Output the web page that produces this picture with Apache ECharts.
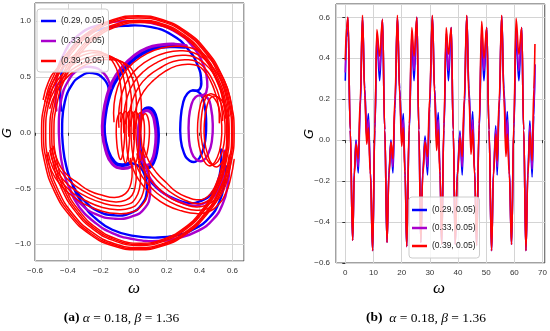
<!DOCTYPE html>
<html><head><meta charset="utf-8">
<script src="https://cdn.jsdelivr.net/npm/echarts@6/dist/echarts.min.js"></script>
<style>html,body{margin:0;padding:0;background:#fff}#c{width:550px;height:331px}</style>
</head><body><div id="c"></div><script>
// ---------- legend names / colours ----------
const seriesNames = ['(0.29, 0.05)', '(0.33, 0.05)', '(0.39, 0.05)'];
const seriesColors = ['#0000ff', '#aa00cc', '#ff0000'];

// ---------- panel (b): time series ----------
const times = [
  0, 0.45, 0.95, 1.75, 2.6, 3.2, 3.8, 4.6, 5.3, 6.1, 6.9, 7.6, 8.2, 8.9,
  9.7, 10.5, 11.2, 12.2, 13.2, 14.0, 14.8, 15.5, 16.2, 16.9, 17.6, 18.5, 19.3, 20.0, 20.6, 21.2,
  21.8, 22.7, 23.6, 24.4, 25.4, 26.1, 26.8, 27.5, 28.3, 29.2, 29.9, 30.9, 31.7, 32.4, 33.0, 33.6,
  34.2, 35.0, 35.8, 36.6, 37.6, 38.3, 39.0, 39.8, 40.7, 41.5, 42.2, 43.1, 43.9, 44.6, 45.2, 45.9,
  46.6, 47.5, 48.4, 49.2, 50.2, 51.0, 51.9, 52.6, 53.4, 53.9, 54.6, 55.5, 56.3, 57.0, 57.5, 58.2,
  59.0, 59.8, 60.6, 61.6, 62.6, 63.3, 64.1, 64.8, 65.5, 66.3, 66.9, 67.3
];
const gBlue = [
  0.29, 0.5, 0.59, 0.05, -0.49, -0.15, 0.0, -0.16, 0.15, 0.6, 0.25, 0.02, 0.13, -0.15,
  -0.54, 0.05, 0.5, 0.29, 0.59, 0.05, -0.5, -0.15, 0.0, -0.16, 0.15, 0.6, 0.25, 0.02, 0.13, -0.15,
  -0.52, 0.05, 0.49, 0.29, 0.6, 0.05, -0.5, -0.15, 0.02, -0.17, 0.15, 0.606, 0.25, 0.02, 0.135, -0.15,
  -0.51, 0.05, 0.5, 0.29, 0.55, 0.05, -0.51, -0.15, 0.045, -0.17, 0.15, 0.606, 0.25, 0.0, 0.14, -0.15,
  -0.515, 0.05, 0.5, 0.29, 0.55, 0.05, -0.54, -0.15, 0.07, -0.17, 0.15, 0.606, 0.25, 0.02, 0.14, -0.15,
  -0.51, 0.05, 0.5, 0.29, 0.55, 0.05, -0.54, -0.15, 0.094, -0.18, 0.12, 0.37
];
const gMagenta = [
  0.33, 0.52, 0.6, 0.05, -0.49, -0.16, -0.01, -0.13, 0.17, 0.6, 0.25, 0.01, 0.1, -0.15,
  -0.54, 0.06, 0.52, 0.34, 0.59, 0.05, -0.5, -0.16, -0.01, -0.13, 0.17, 0.6, 0.25, 0.01, 0.1, -0.15,
  -0.52, 0.06, 0.52, 0.34, 0.6, 0.05, -0.5, -0.16, 0.0, -0.13, 0.17, 0.606, 0.25, 0.0, 0.1, -0.15,
  -0.51, 0.06, 0.52, 0.34, 0.55, 0.05, -0.51, -0.16, 0.03, -0.13, 0.17, 0.606, 0.24, -0.03, 0.1, -0.15,
  -0.515, 0.06, 0.54, 0.34, 0.55, 0.05, -0.54, -0.16, 0.05, -0.13, 0.17, 0.606, 0.24, -0.02, 0.1, -0.15,
  -0.51, 0.06, 0.55, 0.34, 0.55, 0.05, -0.54, -0.16, 0.07, -0.14, 0.15, 0.37
];
const gRed = [
  0.39, 0.55, 0.6, 0.05, -0.49, -0.17, -0.02, -0.09, 0.2, 0.61, 0.22, -0.02, 0.06, -0.17,
  -0.54, 0.08, 0.54, 0.41, 0.59, 0.05, -0.5, -0.17, -0.01, -0.09, 0.2, 0.61, 0.22, -0.03, 0.06, -0.17,
  -0.52, 0.08, 0.55, 0.41, 0.6, 0.05, -0.5, -0.17, -0.01, -0.08, 0.2, 0.61, 0.22, -0.05, 0.05, -0.17,
  -0.51, 0.08, 0.55, 0.42, 0.55, 0.05, -0.51, -0.17, 0.01, -0.08, 0.2, 0.61, 0.2, -0.07, 0.05, -0.17,
  -0.515, 0.08, 0.58, 0.4, 0.55, 0.05, -0.54, -0.17, 0.03, -0.1, 0.2, 0.61, 0.2, -0.08, 0.03, -0.17,
  -0.51, 0.08, 0.595, 0.42, 0.55, 0.05, -0.54, -0.17, 0.04, -0.1, 0.25, 0.47
];

// ---------- panel (a): phase portrait, [omega, G] ----------
// blue (0.29, 0.05)
const blueTop = [[-0.44,0.2],[-0.445,0.45],[-0.41,0.66],[-0.33,0.83],[-0.2,0.93],[-0.05,0.96],[0.1,0.95],[0.23,0.88],[0.33,0.75],[0.39,0.6],[0.41,0.47],[0.4,0.39],[0.36,0.38]];
const blueRight = [[0.36,0.38],[0.405,0.35],[0.43,0.25],[0.44,0.1],[0.435,-0.06],[0.415,-0.18],[0.38,-0.255],[0.34,-0.25],[0.305,-0.18],[0.285,-0.05],[0.285,0.12],[0.3,0.27],[0.325,0.35],[0.36,0.38]];
const blueLeft = [[-0.15,0.38],[-0.18,0.48],[-0.25,0.535],[-0.32,0.51],[-0.38,0.42],[-0.42,0.27],[-0.435,0.08],[-0.43,-0.12],[-0.41,-0.3],[-0.37,-0.47],[-0.3,-0.61],[-0.22,-0.7],[-0.12,-0.74],[-0.02,-0.72],[0.05,-0.64],[0.08,-0.52],[0.07,-0.4],[0.04,-0.31],[-0.02,-0.27]];
const blueBottom = [[-0.37,-0.48],[-0.31,-0.64],[-0.23,-0.77],[-0.13,-0.87],[0.0,-0.925],[0.13,-0.94],[0.26,-0.92],[0.37,-0.86],[0.46,-0.76],[0.52,-0.62],[0.55,-0.46],[0.56,-0.3]];
const blueLowerRight = [[0.04,-0.2],[0.06,-0.33],[0.11,-0.45],[0.18,-0.54],[0.26,-0.6],[0.34,-0.63],[0.41,-0.61],[0.47,-0.55],[0.51,-0.44],[0.53,-0.3],[0.53,-0.15]];
const blueCenter = [[-0.02,-0.27],[-0.07,-0.29],[-0.12,-0.26],[-0.16,-0.15],[-0.18,0.0],[-0.175,0.15],[-0.155,0.3],[-0.12,0.44],[-0.06,0.57],[0.01,0.67],[0.09,0.74],[0.17,0.77],[0.25,0.775],[0.31,0.77]];
const blueSmall = [[0.09,0.22],[0.12,0.19],[0.14,0.1],[0.148,-0.02],[0.14,-0.15],[0.12,-0.26],[0.09,-0.31],[0.06,-0.28],[0.04,-0.17],[0.033,-0.03],[0.038,0.1],[0.055,0.19],[0.09,0.22]];
// magenta (0.33, 0.05)
const magTop = [[-0.47,0.2],[-0.47,0.47],[-0.43,0.69],[-0.34,0.87],[-0.2,0.97],[-0.04,1.0],[0.12,0.98],[0.26,0.9],[0.36,0.77],[0.42,0.62],[0.445,0.48],[0.44,0.36],[0.41,0.335]];
const magRight = [[0.41,0.335],[0.45,0.31],[0.47,0.22],[0.48,0.08],[0.475,-0.07],[0.455,-0.18],[0.42,-0.25],[0.38,-0.24],[0.35,-0.17],[0.335,-0.04],[0.335,0.12],[0.35,0.25],[0.375,0.32],[0.41,0.335]];
const magLeft = [[-0.14,0.4],[-0.18,0.53],[-0.26,0.59],[-0.34,0.56],[-0.4,0.46],[-0.44,0.3],[-0.455,0.1],[-0.45,-0.12],[-0.43,-0.32],[-0.39,-0.5],[-0.32,-0.64],[-0.23,-0.73],[-0.12,-0.77],[-0.01,-0.75],[0.07,-0.67],[0.1,-0.54],[0.09,-0.42]];
const magBottom = [[-0.39,-0.5],[-0.33,-0.67],[-0.24,-0.8],[-0.13,-0.9],[0.0,-0.955],[0.14,-0.97],[0.28,-0.94],[0.39,-0.88],[0.48,-0.78],[0.54,-0.64],[0.57,-0.48],[0.58,-0.3]];
const magLowerRight = [[0.06,-0.2],[0.08,-0.34],[0.13,-0.47],[0.2,-0.56],[0.28,-0.62],[0.36,-0.655],[0.43,-0.63],[0.49,-0.57],[0.53,-0.46],[0.55,-0.32],[0.55,-0.16]];
const magCenter = [[-0.01,-0.3],[-0.07,-0.32],[-0.13,-0.28],[-0.17,-0.16],[-0.19,0.0],[-0.185,0.16],[-0.165,0.32],[-0.13,0.46],[-0.07,0.59],[0.0,0.69],[0.08,0.76],[0.17,0.79],[0.25,0.795],[0.32,0.78]];
const magSmall = [[0.08,0.2],[0.11,0.17],[0.128,0.08],[0.135,-0.03],[0.128,-0.15],[0.11,-0.25],[0.083,-0.29],[0.055,-0.26],[0.036,-0.16],[0.03,-0.03],[0.034,0.09],[0.05,0.17],[0.08,0.2]];
// red (0.39, 0.05)
const redOuter1 = [[0.025,1.05],[0.177,1.014],[0.318,0.909],[0.439,0.742],[0.532,0.525],[0.59,0.272],[0.61,0],[0.59,-0.272],[0.532,-0.525],[0.439,-0.742],[0.318,-0.909],[0.177,-1.014],[0.025,-1.05],[-0.127,-1.014],[-0.268,-0.909],[-0.389,-0.742],[-0.482,-0.525],[-0.54,-0.272],[-0.56,0],[-0.54,0.272],[-0.482,0.525],[-0.389,0.742],[-0.268,0.909],[-0.127,1.014],[0.025,1.05]];
const redOuter2 = [[0.027,1.04],[0.176,1.005],[0.315,0.901],[0.434,0.735],[0.525,0.52],[0.582,0.269],[0.602,0],[0.582,-0.269],[0.525,-0.52],[0.434,-0.735],[0.315,-0.901],[0.176,-1.005],[0.027,-1.04],[-0.122,-1.005],[-0.261,-0.901],[-0.38,-0.735],[-0.471,-0.52],[-0.528,-0.269],[-0.548,0],[-0.528,0.269],[-0.471,0.52],[-0.38,0.735],[-0.261,0.901],[-0.122,1.005],[0.027,1.04]];
const redOuter3 = [[0.03,1.03],[0.176,0.995],[0.313,0.892],[0.43,0.728],[0.519,0.515],[0.576,0.267],[0.595,0],[0.576,-0.267],[0.519,-0.515],[0.43,-0.728],[0.313,-0.892],[0.176,-0.995],[0.03,-1.03],[-0.116,-0.995],[-0.253,-0.892],[-0.37,-0.728],[-0.459,-0.515],[-0.516,-0.267],[-0.535,0],[-0.516,0.267],[-0.459,0.515],[-0.37,0.728],[-0.253,0.892],[-0.116,0.995],[0.03,1.03]];
const redOuter4 = [[0.035,1.01],[0.176,0.976],[0.308,0.875],[0.42,0.714],[0.507,0.505],[0.561,0.262],[0.58,0],[0.561,-0.262],[0.507,-0.505],[0.42,-0.714],[0.308,-0.875],[0.176,-0.976],[0.035,-1.01],[-0.106,-0.976],[-0.238,-0.875],[-0.35,-0.714],[-0.437,-0.505],[-0.491,-0.262],[-0.51,0],[-0.491,0.262],[-0.437,0.505],[-0.35,0.714],[-0.238,0.875],[-0.106,0.976],[0.035,1.01]];
const redOuter5 = [[0.037,1.0],[0.175,0.966],[0.305,0.866],[0.415,0.707],[0.5,0.5],[0.554,0.259],[0.572,0],[0.554,-0.259],[0.5,-0.5],[0.415,-0.707],[0.305,-0.866],[0.175,-0.966],[0.037,-1.0],[-0.101,-0.966],[-0.231,-0.866],[-0.341,-0.707],[-0.426,-0.5],[-0.48,-0.259],[-0.498,0],[-0.48,0.259],[-0.426,0.5],[-0.341,0.707],[-0.231,0.866],[-0.101,0.966],[0.037,1.0]];
const redOuter6 = [[0.04,0.99],[0.176,0.956],[0.303,0.857],[0.411,0.7],[0.495,0.495],[0.547,0.256],[0.565,0],[0.547,-0.256],[0.495,-0.495],[0.411,-0.7],[0.303,-0.857],[0.176,-0.956],[0.04,-0.99],[-0.096,-0.956],[-0.223,-0.857],[-0.331,-0.7],[-0.415,-0.495],[-0.467,-0.256],[-0.485,0],[-0.467,0.256],[-0.415,0.495],[-0.331,0.7],[-0.223,0.857],[-0.096,0.956],[0.04,0.99]];
const redLeft1 = [[-0.55,0.3],[-0.52,0.45],[-0.47,0.57],[-0.4,0.66],[-0.32,0.72],[-0.24,0.735],[-0.17,0.7],[-0.12,0.62],[-0.09,0.5],[-0.075,0.36],[-0.075,0.22],[-0.08,0.1]];
const redLeft2 = [[-0.54,0.28],[-0.5,0.43],[-0.45,0.55],[-0.38,0.64],[-0.3,0.7],[-0.21,0.715],[-0.14,0.68],[-0.09,0.6],[-0.06,0.48],[-0.045,0.34],[-0.045,0.2],[-0.05,0.08]];
const redLeft3 = [[-0.53,0.26],[-0.49,0.41],[-0.43,0.53],[-0.36,0.62],[-0.27,0.68],[-0.18,0.695],[-0.11,0.66],[-0.06,0.58],[-0.03,0.46],[-0.015,0.32],[-0.015,0.18],[-0.02,0.06]];
const redLeft4 = [[-0.52,0.24],[-0.48,0.39],[-0.42,0.51],[-0.34,0.6],[-0.25,0.66],[-0.16,0.675],[-0.08,0.64],[-0.03,0.56],[0.0,0.44],[0.015,0.3],[0.015,0.16],[0.01,0.04]];
const redLeft5 = [[-0.51,0.22],[-0.47,0.37],[-0.41,0.49],[-0.33,0.58],[-0.23,0.64],[-0.13,0.655],[-0.05,0.62],[0.0,0.54],[0.03,0.42],[0.045,0.28],[0.045,0.14],[0.04,0.02]];
const redFan1 = [[-0.12,0.1],[-0.12,0.25],[-0.1,0.4],[-0.06,0.53],[0.0,0.63],[0.08,0.71],[0.17,0.76],[0.26,0.775],[0.35,0.76],[0.43,0.7],[0.5,0.6],[0.55,0.47],[0.585,0.32],[0.6,0.17]];
const redFan2 = [[-0.09,0.05],[-0.09,0.2],[-0.07,0.36],[-0.03,0.49],[0.03,0.59],[0.11,0.67],[0.2,0.72],[0.28,0.735],[0.36,0.72],[0.43,0.66],[0.49,0.57],[0.535,0.45],[0.565,0.3],[0.58,0.15]];
const redFan3 = [[-0.06,0.0],[-0.06,0.16],[-0.04,0.32],[0.0,0.45],[0.06,0.55],[0.14,0.63],[0.22,0.68],[0.3,0.695],[0.37,0.68],[0.43,0.62],[0.48,0.54],[0.52,0.42],[0.545,0.28],[0.56,0.13]];
const redFan4 = [[-0.03,-0.03],[-0.03,0.13],[-0.01,0.28],[0.03,0.41],[0.09,0.51],[0.17,0.59],[0.24,0.64],[0.32,0.655],[0.38,0.64],[0.43,0.58],[0.47,0.5],[0.505,0.39],[0.53,0.26],[0.54,0.11]];
const redFan5 = [[0.0,-0.06],[0.0,0.1],[0.02,0.25],[0.06,0.37],[0.12,0.47],[0.19,0.55],[0.26,0.6],[0.33,0.615],[0.39,0.6],[0.43,0.55],[0.465,0.47],[0.495,0.36],[0.515,0.24],[0.52,0.09]];
const redSmall1 = [[-0.08,0.18],[-0.063,0.14],[-0.055,0.05],[-0.057,-0.07],[-0.066,-0.18],[-0.08,-0.24],[-0.095,-0.18],[-0.104,-0.07],[-0.106,0.05],[-0.098,0.14],[-0.08,0.18]];
const redSmall2 = [[-0.05,0.19],[-0.033,0.15],[-0.025,0.05],[-0.027,-0.08],[-0.036,-0.2],[-0.05,-0.27],[-0.065,-0.2],[-0.074,-0.08],[-0.076,0.05],[-0.068,0.15],[-0.05,0.19]];
const redSmall3 = [[-0.02,0.2],[-0.003,0.16],[0.005,0.05],[0.003,-0.08],[-0.006,-0.21],[-0.02,-0.28],[-0.035,-0.21],[-0.044,-0.08],[-0.046,0.05],[-0.038,0.16],[-0.02,0.2]];
const redSmall4 = [[0.01,0.19],[0.027,0.15],[0.035,0.05],[0.033,-0.08],[0.024,-0.2],[0.01,-0.27],[-0.005,-0.2],[-0.014,-0.08],[-0.016,0.05],[-0.008,0.15],[0.01,0.19]];
const redSmall5 = [[0.04,0.18],[0.057,0.14],[0.065,0.05],[0.063,-0.07],[0.054,-0.18],[0.04,-0.25],[0.025,-0.18],[0.016,-0.07],[0.014,0.05],[0.022,0.14],[0.04,0.18]];
const redSmall6 = [[0.07,0.17],[0.087,0.13],[0.095,0.04],[0.093,-0.06],[0.084,-0.16],[0.07,-0.22],[0.055,-0.16],[0.046,-0.06],[0.044,0.04],[0.052,0.13],[0.07,0.17]];
const redRight1 = [[0.47,0.35],[0.51,0.32],[0.54,0.22],[0.555,0.07],[0.55,-0.08],[0.53,-0.2],[0.495,-0.28],[0.46,-0.27],[0.43,-0.18],[0.41,-0.04],[0.41,0.12],[0.425,0.26],[0.445,0.33],[0.47,0.35]];
const redRight2 = [[0.49,0.33],[0.53,0.3],[0.56,0.2],[0.575,0.05],[0.57,-0.1],[0.55,-0.22],[0.515,-0.3],[0.48,-0.29],[0.45,-0.2],[0.43,-0.06],[0.43,0.1],[0.445,0.24],[0.465,0.31],[0.49,0.33]];
const redRight3 = [[0.45,0.34],[0.49,0.31],[0.52,0.21],[0.535,0.06],[0.53,-0.09],[0.51,-0.21],[0.475,-0.29],[0.44,-0.28],[0.41,-0.19],[0.39,-0.05],[0.39,0.11],[0.405,0.25],[0.425,0.32],[0.45,0.34]];
const redLowL1 = [[-0.53,-0.2],[-0.5,-0.34],[-0.45,-0.46],[-0.38,-0.56],[-0.3,-0.64],[-0.2,-0.7],[-0.1,-0.725],[-0.01,-0.71],[0.05,-0.65],[0.085,-0.55],[0.095,-0.42],[0.085,-0.3]];
const redLowL2 = [[-0.52,-0.18],[-0.49,-0.32],[-0.44,-0.44],[-0.37,-0.54],[-0.29,-0.61],[-0.19,-0.67],[-0.1,-0.69],[-0.02,-0.675],[0.03,-0.62],[0.06,-0.52],[0.07,-0.4],[0.06,-0.28]];
const redLowL3 = [[-0.51,-0.16],[-0.48,-0.3],[-0.43,-0.42],[-0.36,-0.51],[-0.28,-0.58],[-0.19,-0.63],[-0.1,-0.655],[-0.03,-0.64],[0.01,-0.59],[0.035,-0.5],[0.04,-0.38],[0.03,-0.26]];
const redLowL4 = [[-0.5,-0.14],[-0.47,-0.28],[-0.42,-0.39],[-0.35,-0.48],[-0.27,-0.55],[-0.19,-0.6],[-0.11,-0.62],[-0.05,-0.605],[-0.01,-0.56],[0.01,-0.47],[0.015,-0.36],[0.005,-0.24]];
const redLowL5 = [[-0.49,-0.12],[-0.46,-0.26],[-0.41,-0.37],[-0.34,-0.45],[-0.27,-0.52],[-0.19,-0.56],[-0.12,-0.58],[-0.07,-0.565],[-0.035,-0.52],[-0.015,-0.44],[-0.01,-0.34],[-0.02,-0.23]];
const redLowR1 = [[-0.02,-0.25],[0.01,-0.37],[0.06,-0.48],[0.12,-0.57],[0.2,-0.65],[0.29,-0.7],[0.38,-0.725],[0.45,-0.71],[0.51,-0.65],[0.56,-0.54],[0.59,-0.4],[0.61,-0.24]];
const redLowR2 = [[0.0,-0.22],[0.03,-0.34],[0.08,-0.45],[0.14,-0.54],[0.22,-0.62],[0.3,-0.67],[0.38,-0.695],[0.45,-0.68],[0.5,-0.62],[0.545,-0.52],[0.575,-0.38],[0.595,-0.22]];
const redLowR3 = [[0.02,-0.19],[0.05,-0.31],[0.1,-0.42],[0.16,-0.51],[0.23,-0.59],[0.31,-0.64],[0.38,-0.665],[0.44,-0.65],[0.49,-0.6],[0.53,-0.5],[0.56,-0.36],[0.58,-0.2]];
const redLowR4 = [[0.04,-0.16],[0.07,-0.28],[0.12,-0.39],[0.18,-0.48],[0.25,-0.56],[0.32,-0.61],[0.38,-0.635],[0.44,-0.62],[0.48,-0.57],[0.515,-0.48],[0.545,-0.34],[0.565,-0.18]];
const redLowR5 = [[0.06,-0.13],[0.09,-0.25],[0.14,-0.36],[0.2,-0.45],[0.26,-0.53],[0.33,-0.58],[0.38,-0.6],[0.43,-0.59],[0.47,-0.54],[0.5,-0.46],[0.53,-0.33],[0.55,-0.17]];

const phaseGroups = [
  {k:0, w:2.4, loops:[blueTop, blueRight, blueLeft, blueBottom, blueLowerRight]},
  {k:0, w:3.8, loops:[blueCenter, blueSmall]},
  {k:1, w:2.4, loops:[magTop, magRight, magLeft, magBottom, magLowerRight]},
  {k:1, w:3.0, loops:[magCenter, magSmall]},
  {k:2, w:1.5, loops:[redOuter1, redOuter2, redOuter3, redOuter4, redOuter5, redOuter6,
    redLeft1, redLeft2, redLeft3, redLeft4, redLeft5,
    redFan1, redFan2, redFan3, redFan4, redFan5,
    redSmall1, redSmall2, redSmall3, redSmall4, redSmall5, redSmall6,
    redRight1, redRight2, redRight3,
    redLowL1, redLowL2, redLowL3, redLowL4, redLowL5,
    redLowR1, redLowR2, redLowR3, redLowR4, redLowR5]}
];

// ---------- build ----------
const sans = "'Liberation Sans', Arial, sans-serif";
const serif = "'Liberation Serif', 'DejaVu Serif', serif";
const minus = s => String(s).replace('-', '\u2212');

// a trajectory piece drawn as one smooth curve through the axis scales
function curveSeries(points, k, w) {
  const closed = points.length > 2 &&
    points[0][0] === points[points.length - 1][0] && points[0][1] === points[points.length - 1][1];
  return {
    type: 'custom', name: seriesNames[k], coordinateSystem: 'cartesian2d',
    xAxisIndex: 0, yAxisIndex: 0, data: points, encode: {x: 0, y: 1},
    silent: true, clip: true,
    itemStyle: {color: seriesColors[k]},
    renderItem: function (params, api) {
      if (params.dataIndex !== 0) return null;
      let pts = points.map(p => api.coord(p));
      if (closed) pts = pts.slice(0, -1);
      return {
        type: closed ? 'polygon' : 'polyline',
        shape: {points: pts, smooth: 0.5},
        style: {stroke: seriesColors[k], lineWidth: w, fill: null, lineJoin: 'round', lineCap: 'round'}
      };
    }
  };
}

const series = [];
phaseGroups.forEach(g => g.loops.forEach(loop => series.push(curveSeries(loop, g.k, g.w))));
[gBlue, gMagenta, gRed].forEach((vals, k) => {
  series.push({
    type: 'line', name: seriesNames[k], xAxisIndex: 1, yAxisIndex: 1,
    data: times.map((t, i) => [t, vals[i]]), smooth: 0.4, smoothMonotone: 'x',
    symbol: 'none', silent: true, color: seriesColors[k],
    itemStyle: {color: seriesColors[k]},
    lineStyle: {color: seriesColors[k], width: 1.6}
  });
});

const axisCommon = {
  type: 'value',
  axisLine: {show: false},
  axisTick: {show: true, length: 3, lineStyle: {color: '#333'}},
  splitLine: {show: true, lineStyle: {color: '#d4d4d4', width: 1}},
};
const labelCommon = {fontSize: 8, fontFamily: sans, color: '#333'};
const legendCommon = {
  data: seriesNames, orient: 'vertical', icon: 'rect', itemWidth: 15, itemHeight: 2.5,
  selectedMode: false, backgroundColor: 'rgba(255,255,255,0.8)', borderColor: '#cccccc',
  borderWidth: 1, borderRadius: 3,
  textStyle: {fontSize: 8.5, fontFamily: sans, color: '#222', lineHeight: 12}
};
const capRich = {
  b: {fontWeight: 'bold', fontSize: 13.5, fontFamily: serif},
  i: {fontStyle: 'italic', fontSize: 13.5, fontFamily: serif}
};

const chart = echarts.init(document.getElementById('c'), null, {renderer: 'canvas'});
chart.setOption({
  animation: false,
  backgroundColor: '#fff',
  grid: [
    {left: 35, top: 3, width: 209, height: 258, show: true, borderColor: '#444', borderWidth: 1, backgroundColor: 'transparent'},
    {left: 336, top: 4, width: 209, height: 259, show: true, borderColor: '#444', borderWidth: 1, backgroundColor: 'transparent'}
  ],
  xAxis: [
    Object.assign({}, axisCommon, {gridIndex: 0, min: -0.6, max: 0.67, splitNumber: 6,
      axisLabel: Object.assign({showMaxLabel: false, margin: 6, formatter: v => minus(v.toFixed(1))}, labelCommon)}),
    Object.assign({}, axisCommon, {gridIndex: 1, min: -3.3, max: 70.8, splitNumber: 7,
      axisLabel: Object.assign({showMinLabel: false, showMaxLabel: false, margin: 6, formatter: v => String(Math.round(v))}, labelCommon)})
  ],
  yAxis: [
    Object.assign({}, axisCommon, {gridIndex: 0, min: -1.15, max: 1.164, splitNumber: 5,
      axisLabel: Object.assign({showMinLabel: false, showMaxLabel: false, margin: 4, formatter: v => minus(v.toFixed(1))}, labelCommon)}),
    Object.assign({}, axisCommon, {gridIndex: 1, min: -0.6, max: 0.665, splitNumber: 6,
      axisLabel: Object.assign({showMaxLabel: false, margin: 6, formatter: v => minus(v.toFixed(1))}, labelCommon)})
  ],
  legend: [
    Object.assign({}, legendCommon, {left: 37, top: 9, itemGap: 8, padding: [6, 4, 5, 4]}),
    Object.assign({}, legendCommon, {left: 409, top: 197, itemGap: 6, padding: [7, 4, 6, 3]})
  ],
  graphic: [
    {type: 'text', x: 8, y: 133, rotation: Math.PI / 2, style: {text: 'G', font: 'italic 13px "DejaVu Sans"', fill: '#000', align: 'center', verticalAlign: 'middle'}},
    {type: 'text', x: 310, y: 134, rotation: Math.PI / 2, style: {text: 'G', font: 'italic 13px "DejaVu Sans"', fill: '#000', align: 'center', verticalAlign: 'middle'}},
    {type: 'text', x: 134, y: 289, style: {text: 'ω', font: 'italic 17px ' + serif, fill: '#000', align: 'center', verticalAlign: 'middle'}},
    {type: 'text', x: 439, y: 289, style: {text: 'ω', font: 'italic 17px ' + serif, fill: '#000', align: 'center', verticalAlign: 'middle'}},
    {type: 'text', x: 121.5, y: 318, style: {
      text: '{b|(a)} {i|α} = 0.18, {i|β} = 1.36', fontSize: 13.5, fontFamily: serif, fill: '#000',
      align: 'center', verticalAlign: 'middle', rich: capRich}},
    {type: 'text', x: 426, y: 318, style: {
      text: '{b|(b)}  {i|α} = 0.18, {i|β} = 1.36', fontSize: 13.5, fontFamily: serif, fill: '#000',
      align: 'center', verticalAlign: 'middle', rich: capRich}}
  ],
  series: series
});
</script></body></html>
